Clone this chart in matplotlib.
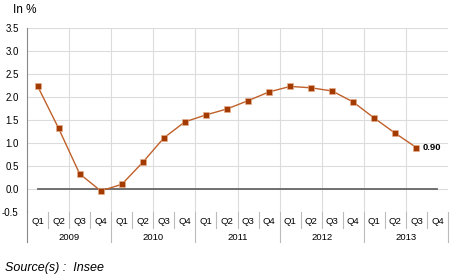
import numpy as np
import matplotlib
matplotlib.use('Agg')
import matplotlib.pyplot as plt
import matplotlib.transforms as mtransforms

plt.rcParams['font.family'] = ['Liberation Sans', 'DejaVu Sans']

# Quarterly values (in %), last quarter of 2013 missing
years = ['2009', '2010', '2011', '2012', '2013']
quarters = ['Q1', 'Q2', 'Q3', 'Q4']
values = [2.24, 1.32, 0.33, -0.04,
          0.10, 0.58, 1.11, 1.46,
          1.61, 1.74, 1.92, 2.11,
          2.23, 2.20, 2.13, 1.89,
          1.54, 1.21, 0.90]
yticks = [-0.5, 0.0, 0.5, 1.0, 1.5, 2.0, 2.5, 3.0, 3.5]

n_cat = len(years) * len(quarters)
x = np.arange(len(values)) + 0.5

fig = plt.figure(figsize=(4.5, 2.79), dpi=100)
ax = fig.add_axes([27 / 450, 1 - 212 / 279, 421 / 450, 184 / 279])

ax.set_xlim(0, n_cat)
ax.set_ylim(-0.5, 3.5)

# grid
for yv in yticks:
    ax.axhline(yv, color='#dcdcdc', lw=0.8, zorder=0)
for xv in range(2, n_cat, 2):
    ax.axvline(xv, color='#dcdcdc', lw=0.8, zorder=0)

# zero line
ax.plot([0.5, n_cat - 0.5], [0, 0], color='#666666', lw=1.3, zorder=1)

ax.plot(x, values, color='#c0602a', lw=1.0, zorder=2)
ax.plot(x, values, ls='none', marker='s', ms=4.2, mfc='#a33a00',
        mec='#e8b090', mew=0.4, zorder=3)
ax.text(x[-1] + 0.3, values[-1], f'{values[-1]:.2f}', fontsize=6.8,
        fontweight='bold', va='center', ha='left')

ax.set_yticks(yticks)
ax.set_yticklabels([f'{v:.1f}' for v in yticks], fontsize=7)
ax.tick_params(axis='y', length=0, pad=6)
ax.set_xticks([])
for s in ['top', 'right', 'bottom']:
    ax.spines[s].set_visible(False)
ax.spines['left'].set_color('#888888')
ax.spines['left'].set_bounds(-0.5, 3.5)

# category axis (quarters and years)
trans = mtransforms.blended_transform_factory(ax.transData, ax.transAxes)
q_y, yr_y = -0.053, -0.138
ax.plot([0, 0], [0, -0.165], color='#888888', lw=0.8, transform=trans,
        clip_on=False)
for i in range(n_cat):
    ax.text(i + 0.5, q_y, quarters[i % 4], transform=trans, fontsize=6.8,
            ha='center', va='center')
    if i > 0:
        low = -0.165 if i % 4 == 0 else -0.087
        ax.plot([i, i], [0, low], color='#bbbbbb', lw=0.8,
                transform=trans, clip_on=False)
ax.plot([n_cat, n_cat], [0, -0.165], color='#bbbbbb', lw=0.8,
        transform=trans, clip_on=False)
for j, yr in enumerate(years):
    ax.text(j * 4 + 2, yr_y, yr, transform=trans, fontsize=6.8,
            ha='center', va='center')

fig.text(13 / 450, 1 - 10 / 279, 'In %', fontsize=8.5, ha='left',
         va='center')
fig.text(5 / 450, 1 - 268 / 279, 'Source(s) :  Insee', fontsize=9,
         style='italic', ha='left', va='center')

fig.savefig('out.png', dpi=100)
